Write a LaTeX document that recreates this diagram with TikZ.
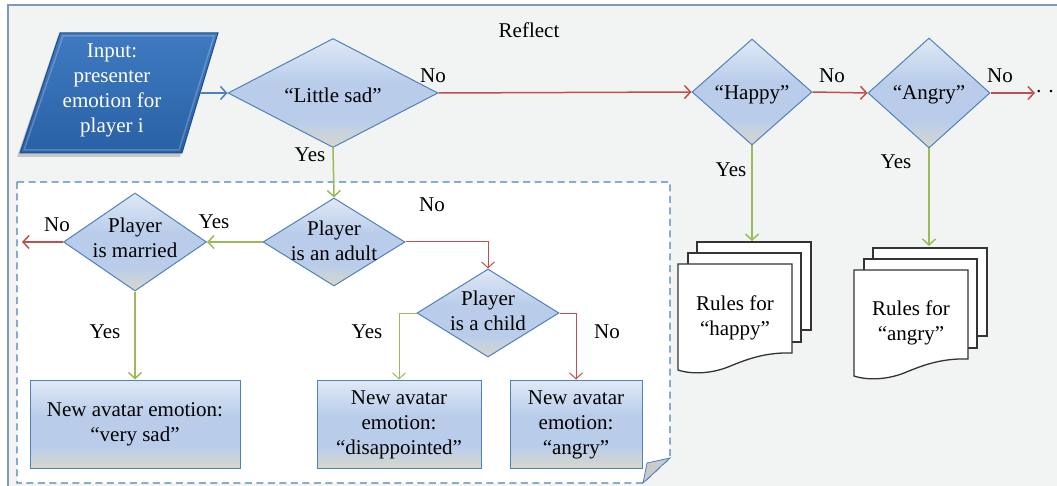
\documentclass[tikz,border=0pt]{standalone}
\usepackage{fontspec}
\setmainfont{Liberation Serif}
\usetikzlibrary{shapes.geometric,arrows.meta}

\definecolor{framebg}{HTML}{F2F3F3}
\definecolor{framecol}{HTML}{7F99B8}
\definecolor{flowblue}{HTML}{4F81BD}
\definecolor{yesgreen}{HTML}{9BBB59}
\definecolor{nored}{HTML}{C0504D}
\definecolor{shTop}{HTML}{E0E9F6}
\definecolor{shMid}{HTML}{B9CDEA}
\definecolor{shBot}{HTML}{D8D8CB}
\definecolor{inTop}{HTML}{3F7AC0}
\definecolor{inBot}{HTML}{2961A6}
\definecolor{inEdge}{HTML}{1F4F8A}
\definecolor{pageEdge}{HTML}{333333}
\definecolor{foldgray}{HTML}{C9CACB}

% light blue fill fading to a grey-beige foot
\pgfdeclareverticalshading{softblue}{100bp}{color(0bp)=(shBot); color(25bp)=(shBot); color(37bp)=(shMid); color(55bp)=(shMid); color(75bp)=(shTop); color(100bp)=(shTop)}

\tikzset{
  dia/.style={diamond, draw=flowblue, line width=1pt, shading=softblue, inner sep=0pt},
  abox/.style={rectangle, draw=flowblue, line width=1pt, shading=softblue, inner sep=0pt},
  txt/.style={align=center, inner sep=0pt, font=\fontsize{21}{25}\selectfont},
  lbl/.style={inner sep=0pt, font=\fontsize{21}{25}\selectfont},
  conn/.style={line width=1.5pt, -{Straight Barb[length=6pt,width=13pt]}},
  yesline/.style={conn, draw=yesgreen},
  noline/.style={conn, draw=nored},
  inline/.style={conn, draw=flowblue},
  thinyes/.style={yesline, line width=1pt},
  thinno/.style={noline, line width=1pt},
  page/.style={fill=white, draw=pageEdge, line width=1.3pt},
}

% stack of three rule sheets, front sheet's top-left corner at (#1,#2)
\newcommand\rulesheets[2]{%
  \begin{scope}[shift={(#1,#2)}]
    \draw[page] (19,-22) rectangle (133,66);
    \draw[page] (10,-11) rectangle (123,78);
    \draw[page] (0,0) -- (114,0) -- (114,89)
      .. controls (85,88) and (65,97) .. (50,103)
      .. controls (35,109) and (15,111) .. (0,106) -- cycle;
  \end{scope}}

\begin{document}
\begin{tikzpicture}[x=1pt,y=-1pt]
\useasboundingbox (0,0) rectangle (1057,486);

% outer panel
\fill[framebg] (8,5) rectangle (1057,486);
\draw[framecol, line width=2.5pt] (8,486) -- (8,5) -- (1057,5);

% dashed sub-process region with folded corner
\filldraw[fill=white, draw=flowblue, line width=1.2pt, dash pattern=on 7pt off 4.5pt]
  (17,182) -- (670,182) -- (670,458) -- (643,483) -- (17,483) -- cycle;
\filldraw[fill=foldgray, draw=flowblue, line width=0.8pt]
  (670,458) -- (647,463) -- (643,483) -- cycle;

\node[lbl] (reflect) at (529,30) {Reflect};

% input parallelogram with soft shadow and bevelled edge
\fill[black, opacity=0.18] (58,36) -- (216,36) -- (180,157) -- (17,157) -- cycle;
\draw[inEdge, line width=1pt, top color=inTop, bottom color=inBot]
  (60,33) -- (218,33) -- (182,153) -- (20,153) -- cycle;
\draw[white, opacity=0.22, line width=1.5pt]
  (63,36) -- (214,36) -- (179,150) -- (24,150) -- cycle;
\node[txt, text=white] (input) at (112,90) {Input:\\presenter\\emotion for\\player i};
\coordinate (inputOut) at (200,93);

% top-level decisions
\node[dia, minimum width=210pt, minimum height=109pt] (sad) at (333,93) {};
\node[txt] (sadT) at (333,95) {“Little sad”};
\node[dia, minimum width=120pt, minimum height=106pt] (happy) at (752,92) {};
\node[txt] (happyT) at (752,95) {“Happy”};
\node[dia, minimum width=122pt, minimum height=110pt] (angry) at (929,93) {};
\node[txt] (angryT) at (929,95) {“Angry”};

% inner decisions
\node[dia, minimum width=142pt, minimum height=88pt] (adult) at (334,242) {};
\node[txt] (adultT) at (334,241) {Player\\is an adult};
\node[dia, minimum width=143pt, minimum height=98pt] (married) at (135,242) {};
\node[txt] (marriedT) at (135,238) {Player\\is married};
\node[dia, minimum width=142pt, minimum height=88pt] (child) at (488,313) {};
\node[txt] (childT) at (488,311) {Player\\is a child};

% results
\node[abox, minimum width=210pt, minimum height=88pt] (verysad) at (135,424) {};
\node[txt] (verysadT) at (135,424) {New avatar emotion:\\“very sad”};
\node[abox, minimum width=164pt, minimum height=88pt] (disap) at (399,424) {};
\node[txt] (disapT) at (399,425) {New avatar\\emotion:\\“disappointed”};
\node[abox, minimum width=132pt, minimum height=88pt] (angrybox) at (576,424) {};
\node[txt] (angryboxT) at (576,425) {New avatar\\emotion:\\“angry”};

% rule sheets
\rulesheets{678}{264}
\node[txt] (rulesH) at (735,318) {Rules for\\“happy”};
\coordinate (happyIn) at (752,241);
\rulesheets{854}{270}
\node[txt] (rulesA) at (911,323) {Rules for\\“angry”};
\coordinate (angryIn) at (929,246);

\coordinate (moreOut) at (1035,93);
\coordinate (marriedNo) at (22,242);
\node[lbl, anchor=base] (dots) at (1045,99) {· ·};

% connectors
\draw[inline] (inputOut) -- (sad.west);
\draw[noline] (sad.east) -- (happy.west);
\draw[noline] (happy.east) -- (angry.west);
\draw[noline] (angry.east) -- (moreOut);
\draw[yesline] (happy.south) -- (happyIn);
\draw[yesline] (angry.south) -- (angryIn);
\draw[yesline] (sad.south) -- (adult.north);
\draw[yesline] (adult.west) -- (married.east);
\draw[noline] (married.west) -- (marriedNo);
\draw[yesline] (married.south) -- (verysad.north);
\draw[thinno] (adult.east) -| (child.north);
\draw[thinyes] (child.west) -| (disap.north);
\draw[thinno] (child.east) -| (angrybox.north);

% branch labels
\node[lbl] (noSad) at (433,76) {No};
\node[lbl] (noHappy) at (832,76) {No};
\node[lbl] (noAngry) at (1000,76) {No};
\node[lbl] (yesHappy) at (731,170) {Yes};
\node[lbl] (yesAngry) at (896,162) {Yes};
\node[lbl] (yesSad) at (310,155) {Yes};
\node[lbl] (noAdult) at (432,205) {No};
\node[lbl] (yesAdult) at (214,222) {Yes};
\node[lbl] (noMarried) at (57,225) {No};
\node[lbl] (yesMarried) at (105,332) {Yes};
\node[lbl] (yesChild) at (367,332) {Yes};
\node[lbl] (noChild) at (607,332) {No};
\end{tikzpicture}
\end{document}
